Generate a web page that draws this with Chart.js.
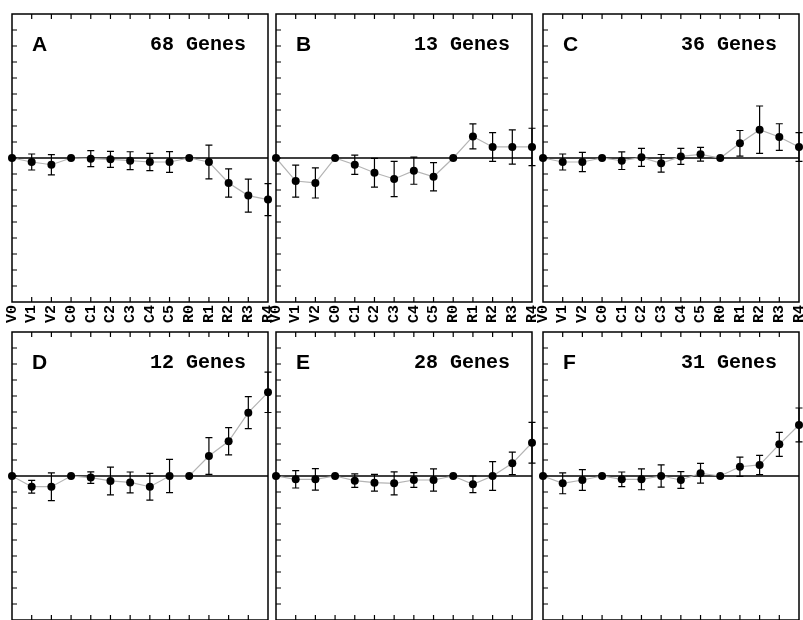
<!DOCTYPE html>
<html lang="en">
<head>
    <meta charset="UTF-8">
    <title>Gene Cluster Profiles</title>
    <script src="https://cdn.jsdelivr.net/npm/chart.js"></script>
    <style>
        html, body { margin: 0; padding: 0; background: #fff; overflow: hidden; }
        #panels { position: relative; width: 803px; height: 620px; overflow: hidden; }
        #panels canvas { position: absolute; }
    </style>
</head>
<body>
    <div id="panels"></div>

    <script>
        // time points along the x axis
        const stages = ['V0', 'V1', 'V2', 'C0', 'C1', 'C2', 'C3', 'C4', 'C5', 'R0', 'R1', 'R2', 'R3', 'R4'];

        // mean expression per cluster (axis units)
        const meanA = [0, -0.25, -0.42, 0, -0.04, -0.08, -0.17, -0.25, -0.25, 0, -0.25, -1.56, -2.35, -2.6];
        const meanB = [0, -1.44, -1.56, 0, -0.42, -0.92, -1.31, -0.79, -1.17, 0, 1.35, 0.69, 0.69, 0.69];
        const meanC = [0, -0.25, -0.25, 0, -0.17, 0.04, -0.33, 0.1, 0.23, 0, 0.92, 1.77, 1.31, 0.69];
        const meanD = [0, -0.67, -0.67, 0, -0.1, -0.31, -0.4, -0.67, 0, 0, 1.25, 2.17, 3.96, 5.23];
        const meanE = [0, -0.21, -0.21, 0, -0.29, -0.42, -0.46, -0.25, -0.25, 0, -0.52, 0, 0.79, 2.08];
        const meanF = [0, -0.46, -0.25, 0, -0.21, -0.21, 0, -0.25, 0.17, 0, 0.58, 0.69, 1.98, 3.19];

        // error bar half-lengths
        const errA = [0, 0.5, 0.63, 0, 0.5, 0.5, 0.56, 0.54, 0.65, 0, 1.06, 0.88, 1.03, 1.0];
        const errB = [0, 1.0, 0.94, 0, 0.6, 0.9, 1.1, 0.85, 0.88, 0, 0.78, 0.9, 1.07, 1.17];
        const errC = [0, 0.5, 0.6, 0, 0.55, 0.56, 0.55, 0.5, 0.43, 0, 0.8, 1.48, 0.83, 0.9];
        const errD = [0, 0.4, 0.87, 0, 0.36, 0.87, 0.65, 0.84, 1.04, 0, 1.15, 0.85, 1.0, 1.26];
        const errE = [0, 0.54, 0.67, 0, 0.42, 0.52, 0.72, 0.46, 0.7, 0, 0.52, 0.9, 0.7, 1.27];
        const errF = [0, 0.65, 0.65, 0, 0.46, 0.65, 0.69, 0.52, 0.62, 0, 0.6, 0.6, 0.75, 1.06];

        const panelLetters = ['A', 'B', 'C', 'D', 'E', 'F'];
        const geneCounts = [68, 13, 36, 12, 28, 31];
        const yMin = -9;
        const yMax = 9;

        // draws zero line, error bars, box, inward ticks and panel labels
        const panelPlugin = {
            id: 'panelDecor',
            beforeDatasetsDraw(chart) {
                const ctx = chart.ctx;
                const area = chart.chartArea;
                const y = chart.scales.y;
                ctx.save();
                ctx.strokeStyle = '#000';
                ctx.lineWidth = 1.5;
                ctx.beginPath();
                ctx.moveTo(area.left, y.getPixelForValue(0));
                ctx.lineTo(area.right, y.getPixelForValue(0));
                ctx.stroke();
                ctx.restore();
            },
            afterDatasetsDraw(chart, args, opts) {
                const ctx = chart.ctx;
                const x = chart.scales.x;
                const y = chart.scales.y;
                ctx.save();
                ctx.strokeStyle = '#000';
                ctx.lineWidth = 1.2;
                opts.means.forEach((m, i) => {
                    const e = opts.errs[i];
                    if (!e) return;
                    const px = x.getPixelForValue(i);
                    const top = y.getPixelForValue(m + e);
                    const bot = y.getPixelForValue(m - e);
                    ctx.beginPath();
                    ctx.moveTo(px, top);
                    ctx.lineTo(px, bot);
                    ctx.moveTo(px - 3.5, top);
                    ctx.lineTo(px + 3.5, top);
                    ctx.moveTo(px - 3.5, bot);
                    ctx.lineTo(px + 3.5, bot);
                    ctx.stroke();
                });
                ctx.restore();
            },
            afterDraw(chart, args, opts) {
                const ctx = chart.ctx;
                const area = chart.chartArea;
                const x = chart.scales.x;
                const y = chart.scales.y;
                ctx.save();
                ctx.strokeStyle = '#000';
                ctx.lineWidth = 1.5;
                ctx.strokeRect(area.left, area.top, area.right - area.left, area.bottom - area.top);

                ctx.lineWidth = 1.2;
                ctx.beginPath();
                // left ticks, every unit
                for (let v = yMin + 1; v < yMax; v++) {
                    const py = y.getPixelForValue(v);
                    ctx.moveTo(area.left, py);
                    ctx.lineTo(area.left + 5, py);
                }
                // top and bottom ticks at each stage
                for (let i = 1; i < stages.length - 1; i++) {
                    const px = x.getPixelForValue(i);
                    ctx.moveTo(px, area.top);
                    ctx.lineTo(px, area.top + 5);
                    ctx.moveTo(px, area.bottom);
                    ctx.lineTo(px, area.bottom - 5);
                }
                ctx.stroke();

                ctx.fillStyle = '#000';
                ctx.textBaseline = 'alphabetic';
                ctx.textAlign = 'left';
                ctx.font = 'bold 21px "Liberation Sans", Arial, sans-serif';
                ctx.fillText(opts.letter, area.left + 20, area.top + 37);
                ctx.textAlign = 'right';
                ctx.font = 'bold 20px "Liberation Mono", "Courier New", monospace';
                ctx.fillText(opts.genes + ' Genes', area.right - 22, area.top + 36);
                ctx.restore();
            }
        };

        // build one small chart for each gene cluster
        function plotPanel(index, means, errs, left, top) {
            const canvas = document.createElement('canvas');
            canvas.width = 276;
            canvas.height = 322;
            canvas.style.left = (left - 10) + 'px';
            canvas.style.top = (top - 4) + 'px';
            document.getElementById('panels').appendChild(canvas);

            new Chart(canvas.getContext('2d'), {
                type: 'line',
                data: {
                    labels: stages,
                    datasets: [{
                        data: means,
                        borderColor: '#b4b4b4',
                        borderWidth: 1.2,
                        pointRadius: 4,
                        pointBackgroundColor: '#000',
                        pointBorderWidth: 0,
                        tension: 0,
                        clip: false
                    }]
                },
                options: {
                    responsive: false,
                    animation: false,
                    devicePixelRatio: 1,
                    layout: { padding: { left: 10, right: 10, top: 4, bottom: 0 } },
                    plugins: {
                        legend: { display: false },
                        tooltip: { enabled: false },
                        panelDecor: {
                            letter: panelLetters[index],
                            genes: geneCounts[index],
                            means: means,
                            errs: errs
                        }
                    },
                    scales: {
                        x: {
                            offset: false,
                            grid: { display: false, drawTicks: false },
                            border: { display: false },
                            ticks: {
                                autoSkip: false,
                                minRotation: 90,
                                maxRotation: 90,
                                padding: 3,
                                color: '#000',
                                font: { family: 'Liberation Mono', size: 15, weight: 'bold' }
                            },
                            afterFit: scale => {
                                scale.height = 30;
                                // labels overhang into the layout padding, no extra room needed
                                scale.paddingLeft = 0;
                                scale.paddingRight = 0;
                            }
                        },
                        y: {
                            display: false,
                            min: yMin,
                            max: yMax
                        }
                    }
                },
                plugins: [panelPlugin]
            });
        }

        const allMeans = [meanA, meanB, meanC, meanD, meanE, meanF];
        const allErrs = [errA, errB, errC, errD, errE, errF];
        const colLeft = [12, 276, 543];
        const rowTop = [14, 332];

        allMeans.forEach((m, i) => {
            plotPanel(i, m, allErrs[i], colLeft[i % 3], rowTop[Math.floor(i / 3)]);
        });
    </script>
</body>
</html>
